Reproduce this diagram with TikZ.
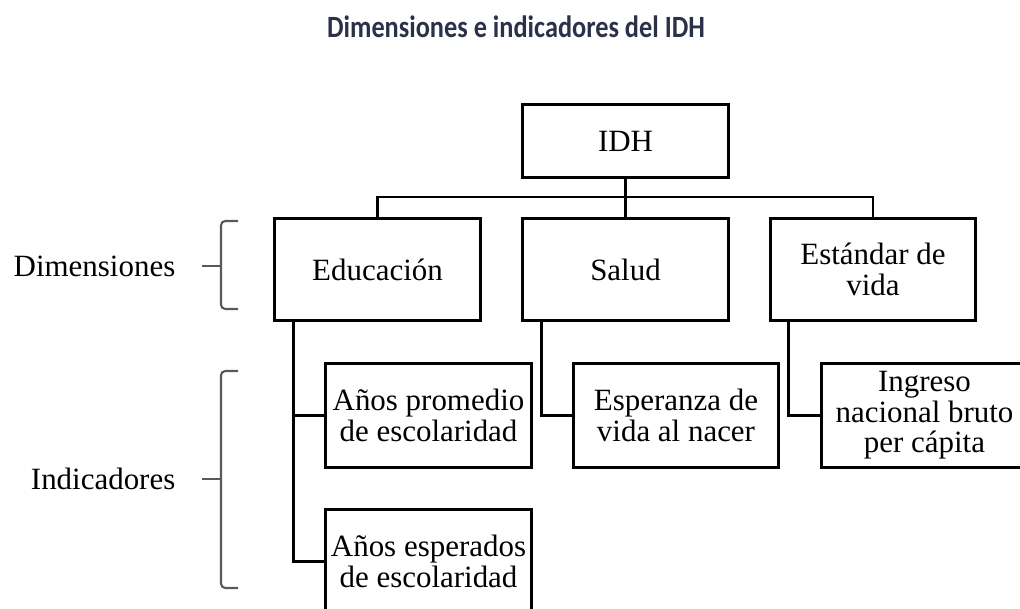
\documentclass[tikz,border=0pt]{standalone}
\usepackage{fontspec}
\setmainfont{Liberation Serif}
\newfontfamily\titlefont[FakeStretch=0.85]{Carlito}
\definecolor{titleblue}{RGB}{44,49,74}
\tikzset{
  box/.style={draw, line width=0.85pt, minimum width=2.05cm, minimum height=1.01cm,
    align=center, inner sep=1pt, font=\fontsize{8.8}{8.7}\selectfont},
  link/.style={line width=0.85pt},
  brace/.style={line width=0.6pt, draw=black!65, rounded corners=1.2pt},
  side/.style={anchor=east, inner sep=0pt, font=\fontsize{8.8}{8.7}\selectfont}
}
\begin{document}
\begin{tikzpicture}[x=0.01cm, y=-0.01cm]
\useasboundingbox (0,0) rectangle (1020,609);
\clip (0,0) rectangle (1020,609);
\node[font=\titlefont\bfseries\fontsize{8.8}{10}\selectfont, text=titleblue] (title) at (516,27) {Dimensiones e indicadores del IDH};

\node[box, minimum height=0.72cm] (idh) at (625.5,141) {IDH};
\node[box] (educ) at (377.5,269.5) {Educación};
\node[box] (salud) at (625.5,269.5) {Salud};
\node[box] (nivel) at (873,269.5) {Estándar de\\vida};
\node[box, minimum height=1.03cm] (prom) at (428.5,415.5) {Años promedio\\de escolaridad};
\node[box, minimum height=1.03cm] (esper) at (428.5,561.5) {Años esperados\\de escolaridad};
\node[box, minimum height=1.03cm] (vida) at (676,415.5) {Esperanza de\\vida al nacer};
\node[box, minimum height=1.03cm] (ingreso) at (924.5,415.5) {Ingreso\\nacional bruto\\per cápita};

\coordinate (bus) at (625.5,197);
\draw[link] (idh) -- (salud);
\draw[link] (educ.north) |- (bus) -| (nivel.north);
\draw[link] ([xshift=0.2cm]educ.south west) |- (prom.west);
\draw[link] ([xshift=0.2cm]educ.south west) |- (esper.west);
\draw[link] ([xshift=0.2cm]salud.south west) |- (vida.west);
\draw[link] ([xshift=0.2cm]nivel.south west) |- (ingreso.west);

\node[side] (dimlbl) at (176,266) {Dimensiones};
\node[side] (indlbl) at (176,479) {Indicadores};
\coordinate (dimmid) at (221,266);
\coordinate (indmid) at (221,479);
\draw[brace] (238,221) -| (dimmid) |- (238,309);
\draw[brace] (238,371) -| (indmid) |- (238,588);
\draw[brace] ([xshift=0.26cm]dimlbl.east) -- (dimmid);
\draw[brace] ([xshift=0.26cm]indlbl.east) -- (indmid);
\end{tikzpicture}
\end{document}
